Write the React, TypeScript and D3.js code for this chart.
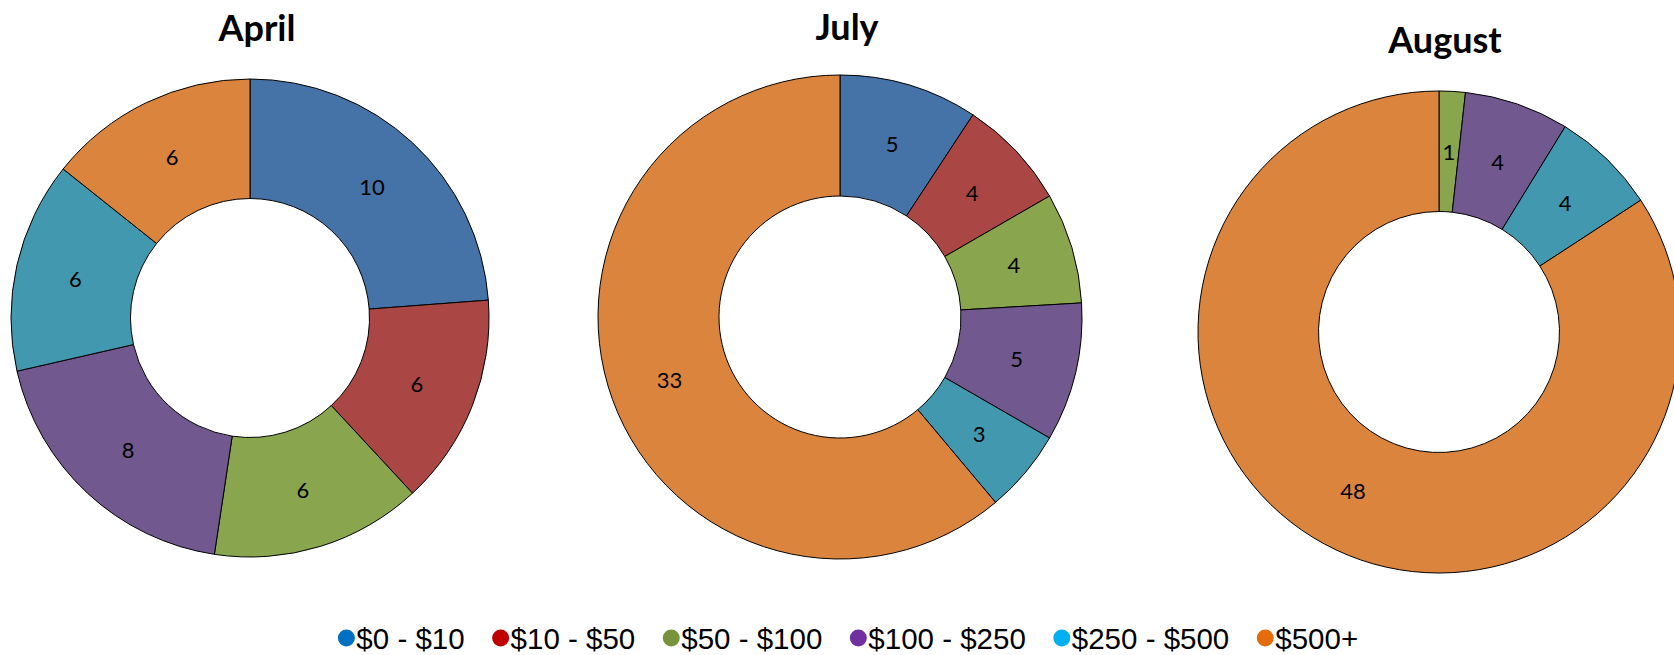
import { useEffect, useRef } from 'react';
import * as d3 from 'd3';

const categories = ['$0 - $10', '$10 - $50', '$50 - $100', '$100 - $250', '$250 - $500', '$500+'];
const months = ['April', 'July', 'August'];
const aprilValues = [10, 6, 6, 8, 6, 6];
const julyValues = [5, 4, 4, 5, 3, 33];
const augustValues = [0, 0, 1, 4, 4, 48];

const sliceColors = ['#4572A7', '#AA4643', '#89A54E', '#71588F', '#4198AF', '#DB843D'];
const legendColors = ['#0070C0', '#C00000', '#77933C', '#7030A0', '#00B0F0', '#E46C0A'];

const WIDTH = 1674;
const HEIGHT = 655;

// layout of each donut (Excel put them unevenly)
const layout = [
  { cx: 250, cy: 318, r: 239, titleX: 257, titleY: 41 },
  { cx: 840, cy: 317, r: 242, titleX: 847, titleY: 40 },
  { cx: 1439, cy: 332, r: 241, titleX: 1445, titleY: 53 },
];

const Donut = ({ values, title, cfg }) => {
  const pie = d3.pie().sort(null).value((d) => d)(values);
  const inner = cfg.r * 0.5;
  const arc = d3.arc().innerRadius(inner).outerRadius(cfg.r);
  const labelArc = d3.arc().innerRadius((inner + cfg.r) / 2).outerRadius((inner + cfg.r) / 2);

  return (
    <g>
      <text
        x={cfg.titleX}
        y={cfg.titleY}
        textAnchor="middle"
        fontFamily="Lato, 'Open Sans', sans-serif"
        fontWeight="bold"
        fontSize={36}
        fill="#000"
      >
        {title}
      </text>
      <g transform={`translate(${cfg.cx},${cfg.cy})`}>
        {pie.map((p, i) =>
          p.value > 0 ? (
            <path key={i} d={arc(p)} fill={sliceColors[i]} stroke="#000" strokeWidth={1} />
          ) : null
        )}
        {pie.map((p, i) => {
          if (p.value <= 0) return null;
          const [x, y] = labelArc.centroid(p);
          return (
            <text
              key={'l' + i}
              x={x}
              y={y}
              textAnchor="middle"
              dominantBaseline="central"
              fontFamily="Lato, 'Open Sans', sans-serif"
              fontSize={22}
              fill="#000"
            >
              {p.value}
            </text>
          );
        })}
      </g>
    </g>
  );
};

const Legend = () => {
  const ref = useRef(null);

  useEffect(() => {
    const g = d3.select(ref.current);
    g.selectAll('*').remove();
    const items = g
      .selectAll('g')
      .data(categories)
      .join('g');
    items
      .append('circle')
      .attr('r', 8.5)
      .attr('cx', 0)
      .attr('cy', 0)
      .attr('fill', (d, i) => legendColors[i]);
    items
      .append('text')
      .attr('x', 10)
      .attr('y', 10.5)
      .attr('font-family', "'Liberation Sans', Arial, sans-serif")
      .attr('font-size', 29.5)
      .attr('fill', '#000')
      .text((d) => d);

    let x = 0;
    const positions = [];
    items.each(function () {
      const t = d3.select(this).select('text').node();
      const w = t.getComputedTextLength();
      positions.push(x);
      x += 10 + w + 36;
    });
    const total = x - 36 + 8.5;
    const start = 848 - total / 2 + 8.5;
    items.attr('transform', (d, i) => `translate(${start + positions[i]},638)`);
  }, []);

  return <g ref={ref} />;
};

export default function App() {
  const series = [aprilValues, julyValues, augustValues];
  return (
    <svg
      width={WIDTH}
      height={HEIGHT}
      style={{ position: 'absolute', left: 0, top: 0, background: '#fff' }}
    >
      {series.map((vals, i) => (
        <Donut key={months[i]} values={vals} title={months[i]} cfg={layout[i]} />
      ))}
      <Legend />
    </svg>
  );
}
